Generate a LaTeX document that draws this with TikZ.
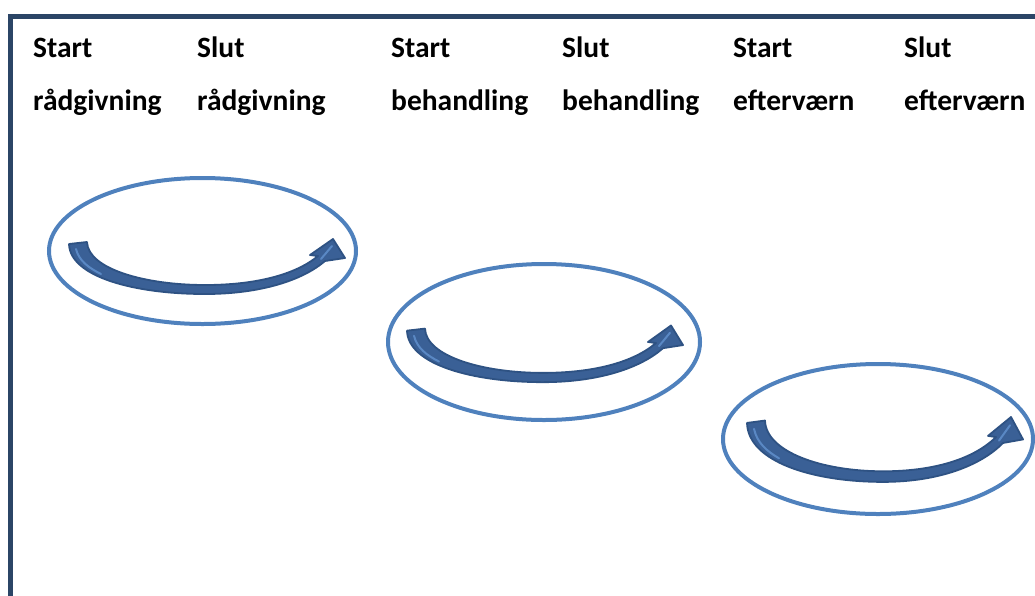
\documentclass[tikz,border=0pt]{standalone}
\usepackage{fontspec}
\setmainfont{Carlito}
\usetikzlibrary{shapes.geometric}

\definecolor{framecol}{HTML}{2B4566}
\definecolor{ringcol}{HTML}{4F81BD}
\definecolor{arrowfill}{HTML}{3A6096}
\definecolor{arrowedge}{HTML}{2E5283}
\definecolor{arrowlight}{HTML}{5A88C4}

\tikzset{
  label/.style={anchor=base west, inner sep=0pt, font=\fontsize{29.5}{31}\selectfont\bfseries},
  ring/.style={ellipse, draw=ringcol, line width=4pt, inner sep=0pt},
  bent/.style={fill=arrowfill, draw=arrowedge, line width=1.8pt, line join=round},
  shine/.style={draw=arrowlight, line width=2pt, line cap=round},
}

% curved arrow inside each ring: #1 = name, #2 = bottom point, #3 = vertical scale
\newcommand\bentarrow[3]{%
  \begin{scope}[shift={#2}, yscale=#3]
    \coordinate (#1) at (0,0);
    \draw[bent]
      (-136,-45) .. controls (-135,-12) and (-70,5) .. (0,5)
      .. controls (56,5) and (98,-9) .. (120,-28)
      -- (140,-31) -- (128,-50) -- (105,-34) -- (113,-33)
      .. controls (90,-14) and (50,-4) .. (0,-4)
      .. controls (-60,-4) and (-117,-20) .. (-118,-47) -- cycle;
    \draw[shine] (-129,-40) .. controls (-126,-28) and (-116,-21) .. (-104,-15);
    \draw[shine] (116,-30) -- (127,-43);
  \end{scope}}

\begin{document}
\begin{tikzpicture}[x=1pt, y=-1pt]
  \useasboundingbox (0,0) rectangle (1035,595);

  % frame
  \coordinate (fbot) at (10,597);
  \coordinate (fcorner) at (10,16);
  \coordinate (fright) at (1037,16);
  \draw[framecol, line width=5pt] (fbot) -- (fcorner) -- (fright);

  % column headings
  \node[label] (s1) at (33,57) {Start};
  \node[label] (r1) at (33,110) {rådgivning};
  \node[label] (e1) at (197,57) {Slut};
  \node[label] (r2) at (197,110) {rådgivning};
  \node[label] (s2) at (391,57) {Start};
  \node[label] (b1) at (391,110) {behandling};
  \node[label] (e2) at (562,57) {Slut};
  \node[label] (b2) at (562,110) {behandling};
  \node[label] (s3) at (733,57) {Start};
  \node[label] (a1) at (733,110) {efterværn};
  \node[label] (e3) at (904,57) {Slut};
  \node[label] (a2) at (904,110) {efterværn};

  % rings
  \node[ring, minimum width=307pt, minimum height=146pt] (ring1) at (202.5,251) {};
  \node[ring, minimum width=312pt, minimum height=156pt] (ring2) at (544,342) {};
  \node[ring, minimum width=310pt, minimum height=150pt] (ring3) at (878,439) {};

  % arrows
  \bentarrow{arr1}{(205,289)}{1}
  \bentarrow{arr2}{(543,377)}{1.03}
  \bentarrow{arr3}{(883,476)}{1.18}
\end{tikzpicture}
\end{document}
